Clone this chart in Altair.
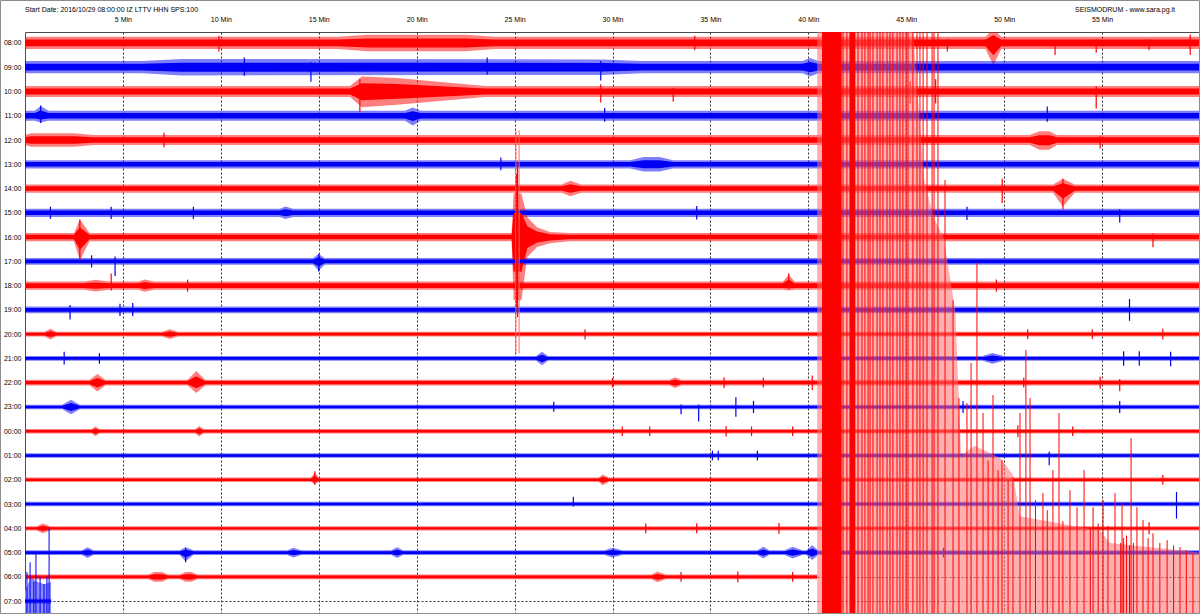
import json
import altair as alt
import pandas as pd

# ---------------- data read from the drum ----------------
ROW_LABELS = ["08:00", "09:00", "10:00", "11:00", "12:00", "13:00", "14:00", "15:00",
              "16:00", "17:00", "18:00", "19:00", "20:00", "21:00", "22:00", "23:00",
              "00:00", "01:00", "02:00", "03:00", "04:00", "05:00", "06:00", "07:00"]
# minute at which each trace ends (06:00 is swallowed by the quake, 07:00 is the live row)
ROW_END = [60, 60, 60, 60, 60, 60, 60, 60, 60, 60, 60, 60,
           60, 60, 60, 60, 60, 60, 60, 60, 60, 60, 40.45, 1.33]
# background noise half-amplitude of each trace (fraction of the row spacing)
BASE_AMP = [0.25, 0.25, 0.23, 0.21, 0.21, 0.17, 0.17, 0.17, 0.17, 0.14, 0.17, 0.14,
            0.10, 0.10, 0.12, 0.09, 0.09, 0.09, 0.09, 0.09, 0.09, 0.10, 0.10, 0.10]

# bursts: (row, start, end, [(minute, up, down), ...])
BURSTS = [
    (0, 16.0, 24.0, [(17.5, 0.34, 0.34), (22.5, 0.34, 0.34)]),
    (0, 49.05, 49.85, [(49.45, 0.58, 0.92)]),
    (1, 6.0, 31.5, [(8.0, 0.34, 0.34), (29.5, 0.32, 0.32)]),
    (1, 39.7, 40.5, [(40.1, 0.38, 0.38)]),
    (2, 16.6, 23.5, [(17.2, 0.62, 0.65), (19.0, 0.55, 0.55)]),
    (3, 0.5, 1.2, [(0.8, 0.4, 0.28)]),
    (3, 19.4, 20.2, [(19.8, 0.34, 0.4)]),
    (4, 0.0, 3.5, [(0.3, 0.28, 0.28), (2.5, 0.28, 0.28)]),
    (4, 51.3, 52.7, [(51.8, 0.36, 0.4), (52.3, 0.36, 0.4)]),
    (5, 30.9, 33.1, [(31.6, 0.3, 0.3), (32.4, 0.3, 0.3)]),
    (6, 27.4, 28.4, [(27.85, 0.32, 0.32)]),
    (6, 52.5, 53.6, [(53.0, 0.4, 0.75)]),
    (7, 13.0, 13.7, [(13.3, 0.26, 0.26)]),
    (8, 2.5, 3.3, [(2.8, 0.72, 0.95)]),
    (8, 24.85, 27.8, [(24.95, 1.8, 2.6), (25.35, 1.8, 2.6), (25.65, 0.82, 0.82),
                      (26.15, 0.41, 0.41), (26.8, 0.21, 0.25)]),
    (9, 14.7, 15.3, [(15.0, 0.3, 0.38)]),
    (10, 3.0, 4.3, [(3.6, 0.24, 0.24)]),
    (10, 5.8, 6.6, [(6.1, 0.25, 0.25)]),
    (10, 38.7, 39.3, [(39.0, 0.45, 0.2)]),
    (12, 1.0, 1.6, [(1.3, 0.22, 0.22)]),
    (12, 7.0, 7.8, [(7.4, 0.2, 0.2)]),
    (13, 26.1, 26.7, [(26.4, 0.28, 0.28)]),
    (13, 48.9, 50.0, [(49.4, 0.22, 0.22)]),
    (14, 3.3, 4.1, [(3.7, 0.36, 0.36)]),
    (14, 8.3, 9.2, [(8.75, 0.48, 0.42)]),
    (14, 32.9, 33.5, [(33.2, 0.22, 0.22)]),
    (15, 1.9, 2.8, [(2.35, 0.3, 0.3)]),
    (16, 3.4, 3.8, [(3.6, 0.2, 0.2)]),
    (16, 8.7, 9.1, [(8.9, 0.22, 0.22)]),
    (18, 14.6, 15.0, [(14.8, 0.3, 0.18)]),
    (18, 29.3, 29.8, [(29.5, 0.22, 0.22)]),
    (20, 0.6, 1.3, [(0.9, 0.2, 0.2)]),
    (21, 2.9, 3.5, [(3.2, 0.22, 0.22)]),
    (21, 7.9, 8.6, [(8.2, 0.22, 0.36)]),
    (21, 13.4, 14.1, [(13.7, 0.2, 0.2)]),
    (21, 18.7, 19.3, [(19.0, 0.22, 0.22)]),
    (21, 29.6, 30.5, [(30.0, 0.2, 0.2)]),
    (21, 37.4, 38.0, [(37.7, 0.24, 0.24)]),
    (21, 38.8, 39.7, [(39.2, 0.24, 0.24)]),
    (21, 39.9, 40.5, [(40.2, 0.3, 0.3)]),
    (22, 6.3, 7.3, [(6.6, 0.2, 0.2), (7.0, 0.2, 0.2)]),
    (22, 7.9, 8.8, [(8.2, 0.2, 0.2), (8.5, 0.2, 0.2)]),
    (22, 32.0, 32.7, [(32.3, 0.22, 0.22)]),
]

# isolated spikes: (row, minute, up, down)
SPIKES = [
    (0, 52.6, 0.1, 0.5), (0, 9.9, 0.3, 0.35), (0, 34.2, 0.3, 0.3), (0, 59.5, 0.35, 0.5),
    (0, 47.1, 0.15, 0.35), (0, 54.7, 0.15, 0.4), (0, 57.4, 0.15, 0.3),
    (1, 14.6, 0.2, 0.6), (1, 29.4, 0.25, 0.55), (1, 11.2, 0.4, 0.35), (1, 23.6, 0.4, 0.3),
    (2, 17.1, 0.5, 0.85), (2, 29.4, 0.3, 0.45), (2, 33.1, 0.15, 0.42), (2, 54.7, 0.2, 0.7),
    (2, 45.2, 0.4, 0.5), (2, 46.5, 0.5, 0.5), (3, 0.8, 0.42, 0.3), (3, 52.2, 0.38, 0.25),
    (3, 29.6, 0.32, 0.25), (4, 7.1, 0.3, 0.3), (4, 54.9, 0.15, 0.35), (5, 24.3, 0.28, 0.25),
    (6, 53.0, 0.4, 0.85), (6, 49.9, 0.4, 0.6), (7, 34.3, 0.28, 0.28), (7, 1.3, 0.25, 0.25),
    (7, 4.4, 0.25, 0.25), (7, 8.6, 0.25, 0.25), (7, 48.1, 0.25, 0.3), (7, 55.9, 0.15, 0.4),
    (8, 2.8, 0.72, 0.95), (8, 57.6, 0.15, 0.42), (9, 15.0, 0.3, 0.42),
    (9, 3.4, 0.25, 0.25), (9, 4.6, 0.2, 0.6), (10, 4.4, 0.5, 0.2), (10, 8.3, 0.25, 0.25),
    (10, 39.0, 0.5, 0.15), (10, 49.6, 0.25, 0.25), (11, 2.3, 0.2, 0.4), (11, 4.85, 0.25, 0.25),
    (11, 5.5, 0.28, 0.25), (11, 56.4, 0.45, 0.45),
    (12, 28.6, 0.2, 0.22), (12, 51.2, 0.2, 0.2), (12, 54.5, 0.2, 0.2), (12, 58.1, 0.22, 0.22),
    (13, 2.0, 0.28, 0.25), (13, 3.8, 0.22, 0.22),
    (13, 56.1, 0.3, 0.3), (13, 56.9, 0.3, 0.3), (13, 58.5, 0.28, 0.32),
    (14, 30.0, 0.2, 0.2), (14, 35.7, 0.22, 0.22), (14, 37.7, 0.2, 0.2), (14, 40.2, 0.3, 0.3),
    (14, 51.0, 0.2, 0.2), (14, 54.9, 0.25, 0.25), (14, 55.9, 0.15, 0.35),
    (15, 27.0, 0.22, 0.2), (15, 33.5, 0.1, 0.3), (15, 34.4, 0.1, 0.6), (15, 36.3, 0.4, 0.4),
    (15, 37.2, 0.25, 0.25), (15, 47.9, 0.25, 0.25), (15, 55.9, 0.25, 0.25),
    (16, 30.5, 0.2, 0.2), (16, 31.9, 0.2, 0.2), (16, 35.8, 0.22, 0.22), (16, 37.1, 0.2, 0.2),
    (16, 39.2, 0.2, 0.2), (16, 50.7, 0.25, 0.25), (16, 53.5, 0.2, 0.2),
    (17, 35.1, 0.2, 0.2), (17, 35.4, 0.2, 0.2), (17, 37.4, 0.2, 0.2), (17, 52.3, 0.15, 0.4),
    (18, 14.8, 0.35, 0.2), (18, 58.1, 0.2, 0.2),
    (19, 58.8, 0.5, 0.6), (19, 28.0, 0.3, 0.1),
    (20, 31.7, 0.2, 0.2), (20, 34.3, 0.2, 0.2), (20, 38.5, 0.22, 0.22), (20, 57.4, 0.25, 0.25),
    (21, 8.2, 0.2, 0.4), (21, 46.9, 0.2, 0.2),
    (22, 33.5, 0.2, 0.2), (22, 36.4, 0.22, 0.22), (22, 39.2, 0.2, 0.2),
    (8, 25.15, 3.05, 3.3), (8, 25.11, 2.6, 2.9),
]
# faint long strokes of the 16:00 event: (row, minute, up, down)
FAINT = [(8, 25.07, 4.4, 4.8), (8, 25.23, 4.4, 4.8)]

# the M6.5 quake on the 06:00 trace (row 22): envelope of the pale fill (minute, top row)
QUAKE_FILL = [(40.45, -1), (45.3, -1), (45.9, 5.6), (46.4, 7.2), (46.9, 8.0), (47.5, 11.0),
              (47.8, 17.0), (48.5, 16.6), (49.8, 17.1), (50.45, 17.8), (50.8, 19.5),
              (54.9, 20.1), (55.4, 20.6), (60.0, 21.0)]
# saturated blocks: (start, end, top row)
QUAKE_SOLID = [(40.7, 41.7, -1), (42.1, 42.4, -1)]
# individual strokes: (minute, top row)
QUAKE_LINES = [
    (41.77, -1), (41.97, -1), (42.54, -1), (42.74, -1), (42.89, -1), (43.05, -1),
    (43.15, -1), (43.30, -1), (43.51, -1), (43.66, -1), (43.81, -1), (44.02, -1),
    (44.17, -1), (44.32, -1), (44.53, -1), (44.68, -1), (44.83, -1), (44.99, -1),
    (45.09, -1), (45.34, -1), (45.55, -1), (45.70, -1), (45.86, -1), (46.06, -1),
    (46.32, -1), (46.42, -1), (46.62, -1), (46.98, 5.65), (47.39, 10.6), (47.69, 14.63),
    (48.10, 14.84), (48.31, 13.19), (48.61, 9.07), (48.92, 15.25), (49.18, 17.2),
    (49.43, 14.51), (49.69, 17.6), (49.89, 17.19), (50.2, 18.0), (50.45, 17.89),
    (50.81, 15.25), (51.11, 12.65), (51.32, 14.63), (51.6, 18.84), (51.98, 18.55),
    (52.2, 19.25), (52.49, 17.6), (52.80, 15.25), (53.0, 19.7), (53.36, 18.43),
    (53.72, 19.13), (54.08, 17.6), (54.4, 20.0), (54.54, 19.13), (54.8, 19.8),
    (55.05, 18.84), (55.3, 19.9), (55.66, 18.55), (55.95, 20.6), (56.02, 18.96),
    (56.1, 20.4), (56.25, 20.3), (56.4, 20.7), (56.48, 16.28), (56.6, 20.6),
    (56.78, 19.13), (57.09, 19.66), (57.35, 20.4), (57.60, 20.2),
    (57.95, 20.6), (58.32, 20.49), (58.65, 20.7), (58.98, 20.77), (59.3, 20.9),
    (59.64, 21.02),
]
# the live 07:00 trace (row 23): pale fill top (minute, top row) and strokes (minute, top row)
TAIL_FILL = [(0.0, 22.6), (0.3, 22.0), (0.6, 22.2), (1.0, 22.3), (1.33, 22.2)]
TAIL_LINES = [(0.10, 21.8), (0.26, 21.4), (0.45, 22.2), (0.56, 20.97), (0.77, 22.0),
              (0.97, 22.3), (1.12, 22.0), (1.23, 20.0)]

HEADER_LEFT = "Start Date: 2016/10/29 08:00:00 IZ LTTV HHN SPS:100"
HEADER_RIGHT = "SEISMODRUM - www.sara.pg.it"
X_TICKS = [5, 10, 15, 20, 25, 30, 35, 40, 45, 50, 55]

# ---------------- styling ----------------
RED, BLUE = "#ff0000", "#0000f5"
FONT = "Liberation Sans"
W, H = 1175, 582
BOTTOM = 24.5
CORE = 0.55          # share of the envelope drawn fully opaque

# ---------------- build tables ----------------
band_rows = []
for r in range(len(ROW_LABELS)):
    b = BASE_AMP[r]
    pts = [(0.0, b, b), (ROW_END[r], b, b)]
    for (br, s, e, inner) in BURSTS:
        if br == r:
            pts += [(s, b, b), (e, b, b)] + list(inner)
    pts = sorted(p for p in pts if p[0] <= ROW_END[r])
    for m, up, dn in pts:
        band_rows.append({"row": r, "m": m, "top": r - up, "bot": r + dn,
                          "ctop": r - up * CORE, "cbot": r + dn * CORE, "trace": r % 2})
bands = pd.DataFrame(band_rows)

spikes = pd.DataFrame([{"row": r, "m": m, "top": r - u, "bot": r + d, "trace": r % 2}
                       for r, m, u, d in SPIKES if m <= ROW_END[r]])
faint = pd.DataFrame([{"m": m, "top": r - u, "bot": r + d} for r, m, u, d in FAINT])
qfill = pd.DataFrame([{"m": m, "top": t, "bot": BOTTOM} for m, t in QUAKE_FILL])
qsolid = pd.DataFrame([{"m": s, "m2": e, "top": t, "bot": BOTTOM} for s, e, t in QUAKE_SOLID])
qlines = pd.DataFrame([{"m": m, "top": t, "bot": BOTTOM} for m, t in QUAKE_LINES])
tfill = pd.DataFrame([{"m": m, "top": t, "bot": BOTTOM} for m, t in TAIL_FILL])
tlines = pd.DataFrame([{"m": m, "top": t, "bot": BOTTOM} for m, t in TAIL_LINES])

label_expr = json.dumps(ROW_LABELS) + "[datum.value]"

def X(field="m"):
    return alt.X(f"{field}:Q", title=None,
                 scale=alt.Scale(domain=[0, 60], nice=False, zero=False),
                 axis=alt.Axis(orient="top", values=X_TICKS, labelExpr="datum.value + ' Min'",
                               grid=True, gridDash=[2, 2], gridColor="#333333", gridWidth=1,
                               ticks=False, domain=False, labelPadding=10, labelFontSize=7,
                               labelFont=FONT, labelColor="#000000", labelAngle=0))

def Y(field="top"):
    return alt.Y(f"{field}:Q", title=None,
                 scale=alt.Scale(domain=[-0.45, 23.53], reverse=True, nice=False, zero=False),
                 axis=alt.Axis(orient="left", values=list(range(24)), labelExpr=label_expr,
                               grid=True, gridDash=[2, 2], gridColor="#333333", gridWidth=1,
                               ticks=False, domain=False, labelPadding=4, labelFontSize=7,
                               labelFont=FONT, labelColor="#000000"))

trace_color = alt.Color("trace:N", scale=alt.Scale(domain=[0, 1], range=[RED, BLUE]), legend=None)

l_qfill = alt.Chart(qfill).mark_area(color="#ff7070", opacity=0.55, clip=True).encode(
    x=X(), y=Y(), y2="bot:Q")
l_tfill = alt.Chart(tfill).mark_area(color="#8a8aff", clip=True).encode(x=X(), y=Y(), y2="bot:Q")
l_outer = alt.Chart(bands).mark_area(clip=True, opacity=0.5).encode(
    x=X(), y=Y(), y2="bot:Q", color=trace_color, detail="row:N")
l_core = alt.Chart(bands).mark_area(clip=True).encode(
    x=X(), y=Y("ctop"), y2="cbot:Q", color=trace_color, detail="row:N")
l_faint = alt.Chart(faint).mark_rule(color="#ff6a6a", strokeWidth=1, clip=True).encode(
    x=X(), y=Y(), y2="bot:Q")
l_spikes = alt.Chart(spikes).mark_rule(strokeWidth=1.2, clip=True).encode(
    x=X(), y=Y(), y2="bot:Q", color=trace_color)
l_qsolid = alt.Chart(qsolid).mark_rect(color=RED, clip=True).encode(
    x=X(), x2="m2:Q", y=Y(), y2="bot:Q")
l_qlines = alt.Chart(qlines).mark_rule(color=RED, strokeWidth=1, clip=True).encode(
    x=X(), y=Y(), y2="bot:Q")
l_tlines = alt.Chart(tlines).mark_rule(color=BLUE, strokeWidth=1, clip=True).encode(
    x=X(), y=Y(), y2="bot:Q")

txt = pd.DataFrame({"left": [HEADER_LEFT], "right": [HEADER_RIGHT]})
l_hl = alt.Chart(txt).mark_text(align="left", baseline="alphabetic", font=FONT, fontSize=7,
                                color="#000000").encode(
    x=alt.value(0), y=alt.value(-20), text="left:N")
l_hr = alt.Chart(txt).mark_text(align="right", baseline="alphabetic", font=FONT, fontSize=7,
                                color="#000000").encode(
    x=alt.value(W - 25), y=alt.value(-20), text="right:N")
l_frame = alt.Chart(txt).mark_rect(filled=False, stroke="#8c8c8c", strokeWidth=1).encode(
    x=alt.value(-24.5), x2=alt.value(W - 0.5), y=alt.value(-31.5), y2=alt.value(H - 0.5))

chart = alt.layer(
    l_tfill, l_outer, l_core, l_faint, l_spikes, l_qfill, l_qsolid, l_qlines, l_tlines,
    l_hl, l_hr, l_frame,
).properties(
    width=W, height=H,
    autosize=alt.AutoSizeParams(type="none"),
    padding={"left": 25, "top": 32, "right": 0, "bottom": 0},
    background="#ffffff",
).configure_view(stroke="#4d4d4d", strokeWidth=1)

chart.save("out.html", embed_options={"renderer": "svg", "actions": False})
